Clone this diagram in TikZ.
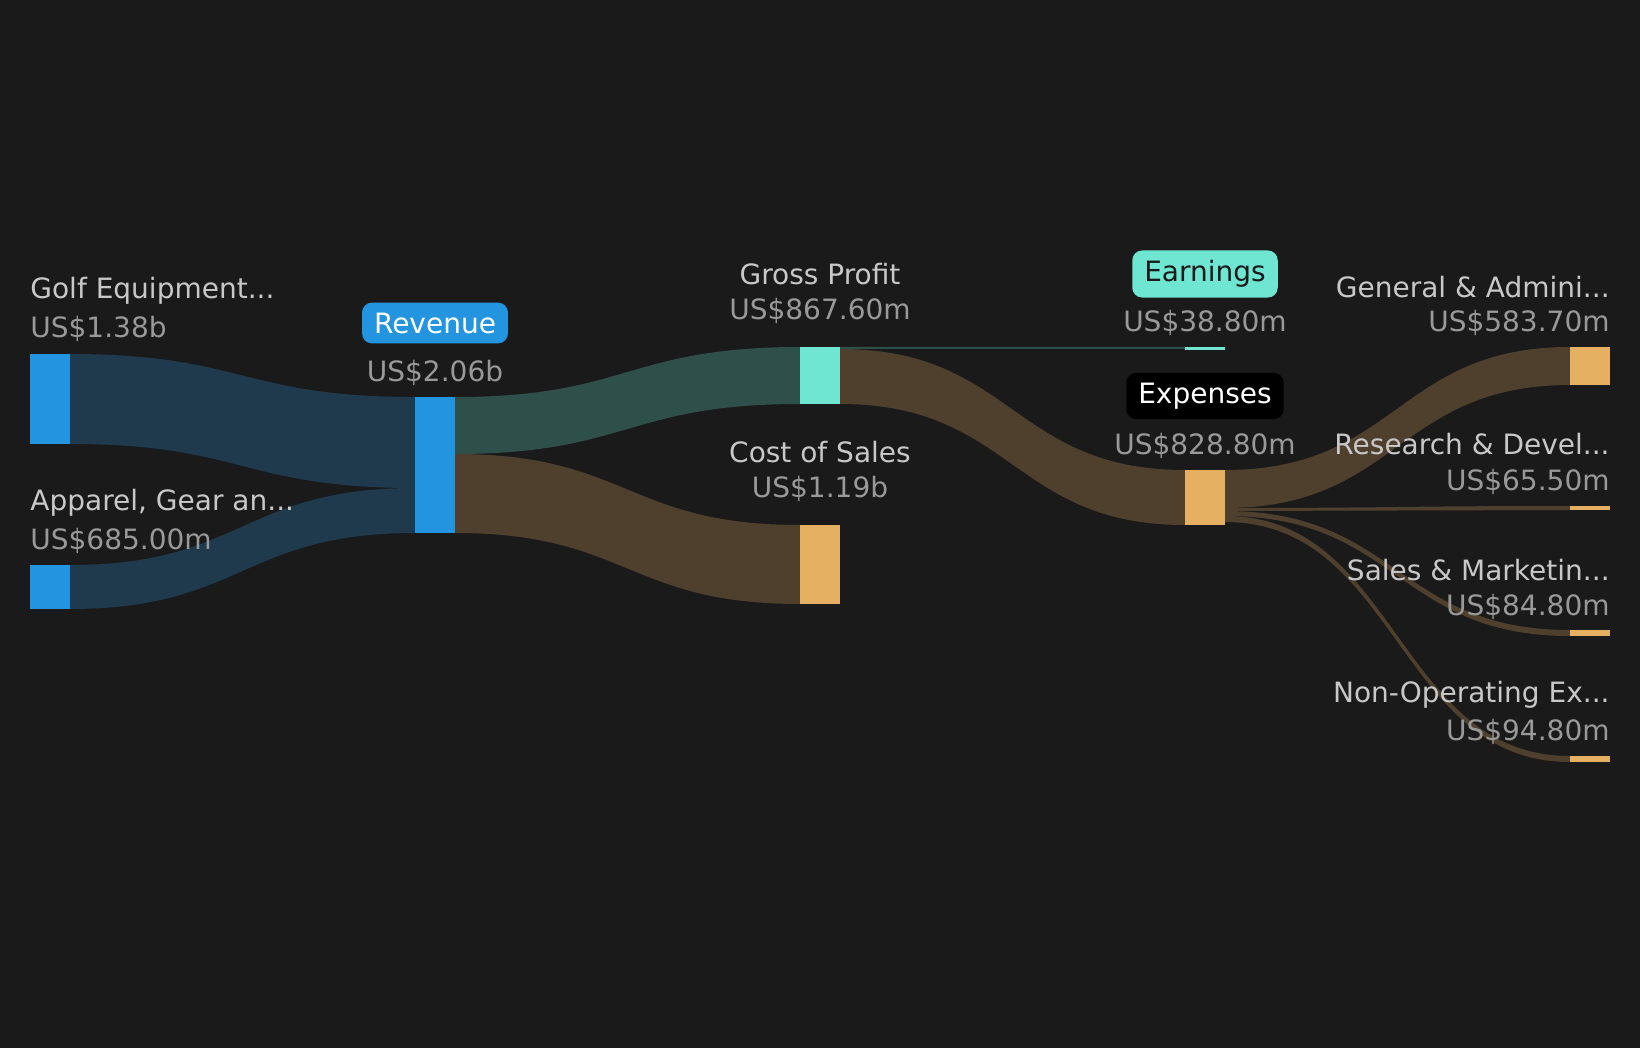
\documentclass[tikz,border=0pt]{standalone}
\usepackage{fontspec}
\setmainfont{DejaVu Sans}
\usetikzlibrary{positioning}
\definecolor{bg}{HTML}{1A1A1A}
\definecolor{revblue}{HTML}{2394DF}
\definecolor{revflow}{HTML}{1E3A4C}
\definecolor{gpteal}{HTML}{6EE6D2}
\definecolor{gpflow}{HTML}{2F4F4A}
\definecolor{costor}{HTML}{E5B061}
\definecolor{costflow}{HTML}{4F402E}
\definecolor{lbl}{HTML}{C8C8C8}
\definecolor{val}{HTML}{999999}
% band from (x1,a1..b1) to (x2,a2..b2)
\newcommand{\band}[7]{%
  \fill[#7] (#1,#2) .. controls ({(#1+#4)/2},#2) and ({(#1+#4)/2},#5) .. (#4,#5)
    -- (#4,#6) .. controls ({(#1+#4)/2},#6) and ({(#1+#4)/2},#3) .. (#1,#3) -- cycle;}
\begin{document}
\begin{tikzpicture}[x=0.5pt,y=-0.5pt,
    lab/.style={text=lbl, inner xsep=0pt, font=\fontsize{14}{16}\selectfont},
    amount/.style={text=val, inner xsep=0pt, font=\fontsize{14}{16}\selectfont},
    tag/.style={rounded corners=5pt, inner xsep=6pt, inner ysep=5pt, font=\fontsize{14}{16}\selectfont}]
  \fill[bg] (0,0) rectangle (1640,1048);
  % Flows
  \band{70}{354}{444}{415}{397}{488}{revflow}
  \band{70}{565}{609}{415}{488}{533}{revflow}
  \band{455}{397}{454}{800}{347}{404}{gpflow}
  \band{455}{454}{533}{800}{525}{604}{costflow}
  \band{840}{347}{349}{1185}{347}{349}{gpflow}
  \band{840}{349}{404}{1185}{470}{525}{costflow}
  \band{1225}{470}{508}{1570}{347}{385}{costflow}
  \band{1225}{508}{511}{1570}{506}{510}{costflow}
  \band{1225}{511}{516}{1570}{630}{636}{costflow}
  \band{1225}{516}{522}{1570}{756}{762}{costflow}
  % Bars
  \fill[revblue] (30,354) rectangle (70,444);
  \fill[revblue] (30,565) rectangle (70,609);
  \fill[revblue] (415,397) rectangle (455,533);
  \fill[gpteal] (800,347) rectangle (840,404);
  \fill[costor] (800,525) rectangle (840,604);
  \fill[gpteal] (1185,347) rectangle (1225,350);
  \fill[costor] (1185,470) rectangle (1225,525);
  \fill[costor] (1570,347) rectangle (1610,385);
  \fill[costor] (1570,506) rectangle (1610,510);
  \fill[costor] (1570,630) rectangle (1610,636);
  \fill[costor] (1570,756) rectangle (1610,762);
  % Labels
  \node[lab, anchor=west] (golf) at (30,291) {Golf Equipment...};
  \node[amount, anchor=west] (golfv) at (30,329) {US\$1.38b};
  \node[lab, anchor=west] (app) at (30,503) {Apparel, Gear an...};
  \node[amount, anchor=west] (appv) at (30,541) {US\$685.00m};
  \node[tag, fill=revblue, text=white] (rev) at (435,323) {Revenue};
  \node[amount] (revv) at (435,373) {US\$2.06b};
  \node[lab] (gp) at (820,274) {Gross Profit};
  \node[amount] (gpv) at (820,311) {US\$867.60m};
  \node[lab] (cos) at (820,452) {Cost of Sales};
  \node[amount] (cosv) at (820,489) {US\$1.19b};
  \node[tag, fill=gpteal, text=bg] (earn) at (1205,274) {Earnings};
  \node[amount] (earnv) at (1205,323) {US\$38.80m};
  \node[tag, fill=black, text=white] (exp) at (1205,396) {Expenses};
  \node[amount] (expv) at (1205,446) {US\$828.80m};
  \node[lab, anchor=east] (ga) at (1610,287) {General \& Admini...};
  \node[amount, anchor=east] (gav) at (1610,323) {US\$583.70m};
  \node[lab, anchor=east] (rd) at (1610,444) {Research \& Devel...};
  \node[amount, anchor=east] (rdv) at (1610,482) {US\$65.50m};
  \node[lab, anchor=east] (sm) at (1610,570) {Sales \& Marketin...};
  \node[amount, anchor=east] (smv) at (1610,607) {US\$84.80m};
  \node[lab, anchor=east] (nop) at (1610,695) {Non-Operating Ex...};
  \node[amount, anchor=east] (nopv) at (1610,732) {US\$94.80m};
\end{tikzpicture}
\end{document}
